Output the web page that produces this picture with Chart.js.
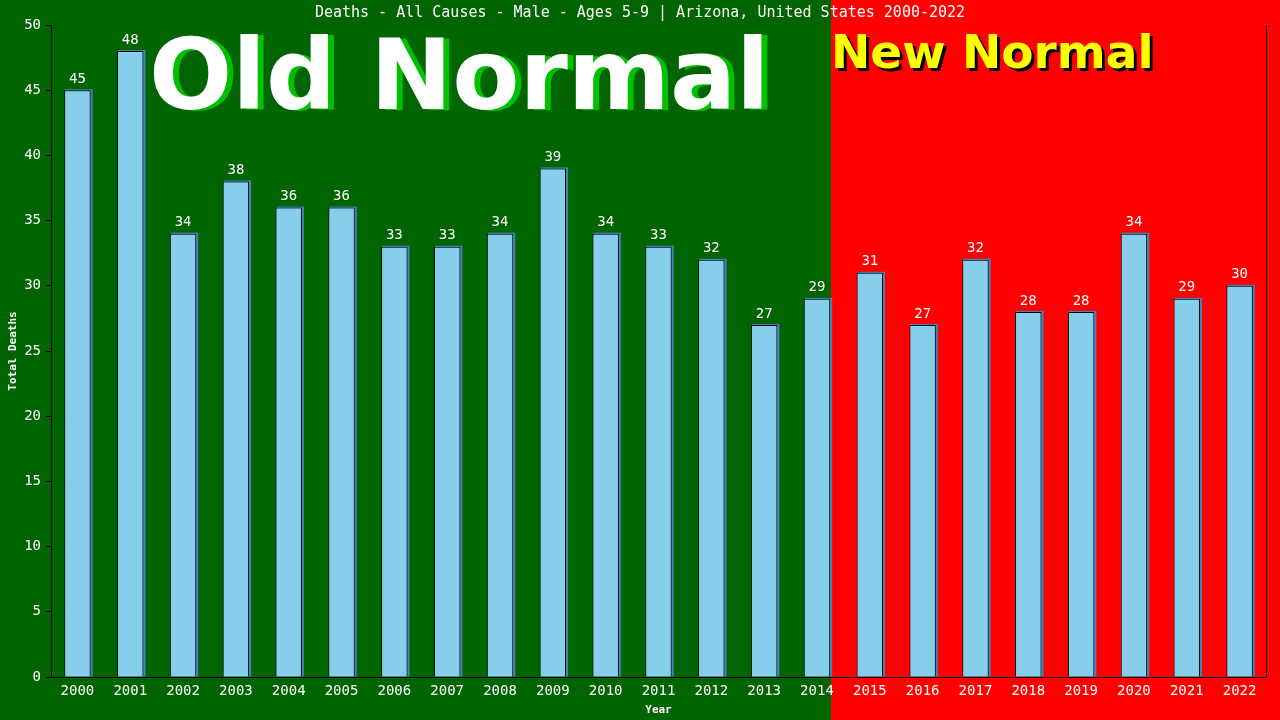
<!DOCTYPE html>
<html>
<head>
<meta charset="utf-8">
<script src="https://cdn.jsdelivr.net/npm/chart.js@4"></script>
<style>
  body { margin: 0; background: #006400; }
  #wrap { width: 1280px; height: 720px; position: relative; }
</style>
</head>
<body>
<div id="wrap"><canvas id="deathsChart"></canvas></div>
<script>
// Chart data
const years = ["2000", "2001", "2002", "2003", "2004", "2005", "2006", "2007", "2008", "2009", "2010", "2011",
  "2012", "2013", "2014", "2015", "2016", "2017", "2018", "2019", "2020", "2021", "2022"];
const deaths = [45, 48, 34, 38, 36, 36, 33, 33, 34, 39, 34, 33, 32, 27, 29, 31, 27, 32, 28, 28, 34, 29, 30];
const lastOldYear = "2014";
const chartTitle = "Deaths - All Causes - Male - Ages 5-9 | Arizona, United States 2000-2022";

const mono = "'DejaVu Sans Mono', monospace";
const bigFont = "'DejaVu Sans', Verdana, sans-serif";

// Green / red background split after the last "old normal" bar
const backgroundPlugin = {
  id: "splitBackground",
  beforeDraw(chart) {
    const ctx = chart.ctx;
    const meta = chart.getDatasetMeta(0);
    const bar = meta.data[years.indexOf(lastOldYear)];
    const split = Math.round(bar.x + bar.width / 2) + 1;
    ctx.save();
    ctx.fillStyle = "#006400";
    ctx.fillRect(0, 0, split, chart.height);
    ctx.fillStyle = "#ff0000";
    ctx.fillRect(split, 0, chart.width - split, chart.height);

    // big captions
    ctx.textBaseline = "alphabetic";
    ctx.textAlign = "left";
    ctx.font = "bold 98px " + bigFont;
    ctx.fillStyle = "#00c000";
    ctx.fillText("Old Normal", 155, 110);
    ctx.fillStyle = "#ffffff";
    ctx.fillText("Old Normal", 149, 109);

    ctx.font = "bold 47px " + bigFont;
    ctx.fillStyle = "#000000";
    ctx.fillText("New Normal", split + 3, 71);
    ctx.fillStyle = "#ffff00";
    ctx.fillText("New Normal", split, 68);

    // title
    ctx.font = "15px " + mono;
    ctx.fillStyle = "#ffffff";
    ctx.textAlign = "center";
    ctx.textBaseline = "middle";
    ctx.fillText(chartTitle, chart.width / 2, 13);
    ctx.restore();
  },
  beforeDatasetsDraw(chart) {
    // steel blue shadow behind each bar
    const ctx = chart.ctx;
    ctx.save();
    ctx.fillStyle = "#4682b4";
    chart.getDatasetMeta(0).data.forEach((bar) => {
      const left = bar.x - bar.width / 2;
      ctx.fillRect(left + 1, bar.y - 1, bar.width + 1, bar.base - bar.y + 1);
    });
    ctx.restore();
  },
  afterDatasetsDraw(chart) {
    const ctx = chart.ctx;
    ctx.save();
    ctx.font = "14px " + mono;
    ctx.fillStyle = "#ffffff";
    ctx.textAlign = "center";
    ctx.textBaseline = "bottom";
    chart.getDatasetMeta(0).data.forEach((bar, i) => {
      ctx.fillText(String(deaths[i]), bar.x, bar.y - 4);
    });
    // right frame line
    const area = chart.chartArea;
    ctx.strokeStyle = "#000000";
    ctx.lineWidth = 1;
    ctx.beginPath();
    ctx.moveTo(area.right + 0.5, area.top);
    ctx.lineTo(area.right + 0.5, area.bottom);
    ctx.stroke();
    ctx.restore();
  }
};

const ctx = document.getElementById("deathsChart").getContext("2d");
const deathsChart = new Chart(ctx, {
  type: "bar",
  data: {
    labels: years,
    datasets: [
      {
        label: "Total Deaths",
        data: deaths,
        backgroundColor: "#87ceeb",
        borderColor: "#000000",
        borderWidth: 1,
        borderSkipped: "bottom",
        categoryPercentage: 1,
        barPercentage: 0.5,
      },
    ],
  },
  options: {
    responsive: true,
    maintainAspectRatio: false,
    animation: false,
    devicePixelRatio: 1,
    layout: {
      padding: { top: 25, right: 14, left: 0, bottom: 0 },
    },
    plugins: {
      legend: { display: false },
      tooltip: { enabled: false },
      title: { display: false },
    },
    scales: {
      x: {
        grid: { display: false },
        border: { display: true, color: "#000000" },
        ticks: {
          color: "#ffffff",
          font: { family: mono, size: 14 },
          maxRotation: 0,
          autoSkip: false,
          padding: -2,
        },
        title: {
          display: true,
          text: "Year",
          color: "#ffffff",
          font: { family: mono, size: 11, weight: "bold" },
          padding: { top: 0, bottom: 3 },
        },
        afterFit(scale) {
          scale.height = 43;
        },
      },
      y: {
        min: 0,
        max: 50,
        grid: {
          drawOnChartArea: false,
          drawTicks: true,
          tickLength: 5,
          color: "#000000",
        },
        border: { display: true, color: "#000000" },
        ticks: {
          stepSize: 5,
          color: "#ffffff",
          font: { family: mono, size: 14 },
          padding: 5,
        },
        title: {
          display: true,
          text: "Total Deaths",
          color: "#ffffff",
          font: { family: mono, size: 11, weight: "bold" },
          padding: { top: 7, bottom: 0 },
        },
        afterFit(scale) {
          scale.width = 51;
        },
      },
    },
  },
  plugins: [backgroundPlugin],
});
</script>
</body>
</html>
